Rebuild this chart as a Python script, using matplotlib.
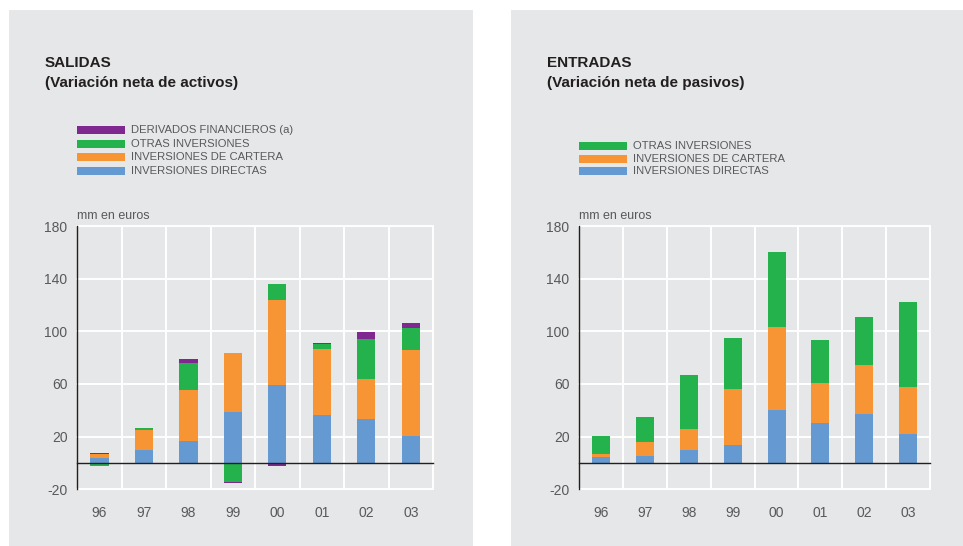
import numpy as np
import matplotlib.pyplot as plt
from matplotlib.patches import Rectangle

plt.rcParams['font.family'] = ['Liberation Sans', 'DejaVu Sans']
plt.rcParams['axes.unicode_minus'] = False

years = ["96", "97", "98", "99", "00", "01", "02", "03"]

# SALIDAS (variación neta de activos), mm en euros
sal_directas = [4.0, 10.1, 16.9, 38.9, 58.9, 36.7, 33.6, 20.7]
sal_cartera = [3.0, 15.2, 38.7, 44.8, 65.0, 50.0, 30.4, 65.3]
sal_otras = [-2.0, 1.5, 20.5, -14.2, 12.1, 3.8, 30.3, 16.7]
sal_derivados = [0.8, 0.0, 3.0, -0.8, -2.0, 0.8, 5.3, 3.8]

# ENTRADAS (variación neta de pasivos), mm en euros
ent_directas = [4.8, 5.6, 10.1, 13.9, 40.5, 30.6, 37.4, 22.3]
ent_cartera = [2.3, 10.6, 15.9, 42.5, 62.9, 30.3, 37.2, 35.6]
ent_otras = [13.6, 18.9, 41.0, 38.7, 56.9, 32.7, 36.4, 64.5]

yticks = [-20, 20, 60, 100, 140, 180]

BLUE = '#6599d1'
ORANGE = '#f79534'
GREEN = '#23b24c'
PURPLE = '#7f288f'
PANEL = '#e6e7e8'
TXT = '#58595b'
DARK = '#231f20'

W, H = 963, 546
fig = plt.figure(figsize=(W / 100, H / 100), dpi=100, facecolor='white')


def fx(px):
    return px / W


def fy(py):
    return 1 - py / H


def draw_panel(x0, x1, ax_left, ax_right, title, subtitle, series, leg_step):
    # gray background
    fig.patches.append(Rectangle((fx(x0), 0), fx(x1) - fx(x0), fy(10), transform=fig.transFigure,
                                 facecolor=PANEL, edgecolor='none', zorder=-2))
    fig.text(fx(x0 + 36), fy(66.7), title, fontsize=11, fontweight='bold', color=DARK, va='baseline')
    fig.text(fx(x0 + 36), fy(86.7), subtitle, fontsize=11, fontweight='bold', color=DARK, va='baseline')

    # legend, top entry drawn first
    n = len(series)
    for k, (vals, color, label) in enumerate(reversed(series)):
        yc = 171 - (n - 1 - k) * leg_step
        fig.patches.append(Rectangle((fx(ax_left), fy(yc + 4)), fx(48), 8 / H, transform=fig.transFigure,
                                     facecolor=color, edgecolor='none', zorder=-1))
        fig.text(fx(ax_left + 54), fy(yc), label, fontsize=8.1, color=TXT, va='center')

    fig.text(fx(ax_left), fy(219.3), "mm en euros", fontsize=9, color=TXT, va='baseline')

    ax = fig.add_axes([fx(ax_left), fy(489.3), fx(ax_right) - fx(ax_left), (489.3 - 226) / H])
    ax.set_zorder(2)
    ax.set_facecolor('none')
    x = np.arange(len(years))
    pos = np.zeros(len(years))
    neg = np.zeros(len(years))
    for vals, color, label in series:
        v = np.array(vals)
        bottom = np.where(v >= 0, pos, neg)
        ax.bar(x, v, 0.41, bottom=bottom, color=color, zorder=3)
        pos = pos + np.clip(v, 0, None)
        neg = neg + np.clip(v, None, 0)

    for t in yticks:
        ax.axhline(t, color='white', lw=1.4, zorder=1, clip_on=False)
    for b in np.arange(0.5, len(years), 1.0):
        ax.axvline(b, color='white', lw=1.4, zorder=1, clip_on=False)
    ax.axhline(0, color='#231f20', lw=1.0, zorder=4, clip_on=False)

    ax.set_xlim(-0.5, len(years) - 0.5)
    ax.set_ylim(-20, 180)
    ax.set_yticks(yticks)
    ax.set_xticks(x)
    ax.set_xticklabels(years)
    ax.tick_params(axis='both', length=0, labelsize=10, labelcolor=TXT)
    ax.tick_params(axis='y', pad=7)
    ax.tick_params(axis='x', pad=12)
    for s in ['top', 'right', 'bottom']:
        ax.spines[s].set_visible(False)
    ax.spines['left'].set_color('#231f20')
    ax.spines['left'].set_linewidth(1.0)
    ax.spines['left'].set_zorder(5)
    return ax


draw_panel(9, 473, 77.3, 433, "SALIDAS", "(Variación neta de activos)",
           [(sal_directas, BLUE, "INVERSIONES DIRECTAS"),
            (sal_cartera, ORANGE, "INVERSIONES DE CARTERA"),
            (sal_otras, GREEN, "OTRAS INVERSIONES"),
            (sal_derivados, PURPLE, "DERIVADOS FINANCIEROS (a)")], 13.6)

draw_panel(511, 963, 579.3, 930, "ENTRADAS", "(Variación neta de pasivos)",
           [(ent_directas, BLUE, "INVERSIONES DIRECTAS"),
            (ent_cartera, ORANGE, "INVERSIONES DE CARTERA"),
            (ent_otras, GREEN, "OTRAS INVERSIONES")], 12.4)

fig.savefig("out.png", dpi=100, facecolor='white')
